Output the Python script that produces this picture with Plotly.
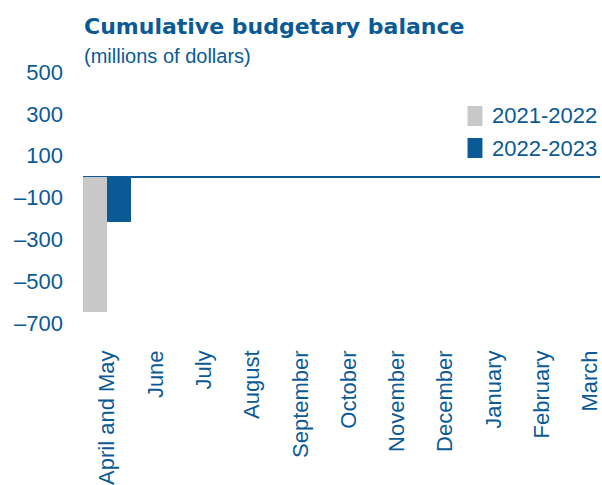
import plotly.graph_objects as go

# Cumulative budgetary balance by month, millions of dollars
months = ["April and May", "June", "July", "August", "September", "October",
          "November", "December", "January", "February", "March"]
series_names = ["2021-2022", "2022-2023"]
balance_2021_22 = [-645, None, None, None, None, None, None, None, None, None, None]
balance_2022_23 = [-215, None, None, None, None, None, None, None, None, None, None]
y_ticks = [500, 300, 100, -100, -300, -500, -700]
y_tick_text = [str(v).replace("-", "\u2013") for v in y_ticks]

BLUE = "#0b5a95"
GREY = "#c8c8c8"
FONT = "Liberation Sans, Arial, sans-serif"

W, H = 602, 485
L, R, T, B = 83, 0, 72, 162
plot_w = W - L - R
plot_h = H - T - B


def px_x(x):
    return (x - L) / plot_w


def px_y(y):
    return (H - B - y) / plot_h


fig = go.Figure()
fig.add_trace(go.Bar(x=months, y=balance_2021_22, name=series_names[0],
                     marker=dict(color=GREY, line=dict(width=0))))
fig.add_trace(go.Bar(x=months, y=balance_2022_23, name=series_names[1],
                     marker=dict(color=BLUE, line=dict(width=0))))

fig.update_layout(
    width=W, height=H,
    margin=dict(l=L, r=R, t=T, b=B, pad=0),
    paper_bgcolor="white", plot_bgcolor="white",
    barmode="group", bargap=0, bargroupgap=0,
    showlegend=False,
    font=dict(family=FONT, size=22, color=BLUE),
)

fig.update_xaxes(
    type="category", range=[-0.5, plot_w / 48.5 - 0.5],
    tickangle=-90, showgrid=False, showline=False, zeroline=False,
    ticks="", ticklabelstandoff=22,
    tickfont=dict(family=FONT, size=22, color=BLUE),
)
fig.update_yaxes(
    range=[-700, 500], tickvals=y_ticks, ticktext=y_tick_text,
    showgrid=False, showline=False,
    zeroline=True, zerolinecolor=BLUE, zerolinewidth=1.5,
    ticks="", ticklabelstandoff=19,
    tickfont=dict(family=FONT, size=22, color=BLUE),
)

# Title and unit line
fig.add_annotation(text="<b>Cumulative budgetary balance</b>", xref="paper", yref="paper",
                   x=px_x(82), y=px_y(27), xanchor="left", yanchor="middle", showarrow=False,
                   font=dict(family="DejaVu Sans, sans-serif", size=22, color=BLUE))
fig.add_annotation(text="(millions of dollars)", xref="paper", yref="paper",
                   x=px_x(82), y=px_y(56), xanchor="left", yanchor="middle", showarrow=False,
                   font=dict(family=FONT, size=20, color=BLUE))

# Legend: swatches and labels
legend_rows = [(series_names[0], GREY, 116), (series_names[1], BLUE, 148)]
for name, color, yc in legend_rows:
    fig.add_shape(type="rect", xref="paper", yref="paper",
                  x0=px_x(469), x1=px_x(484), y0=px_y(yc - 10), y1=px_y(yc + 10),
                  fillcolor=color, line=dict(width=0))
    fig.add_annotation(text=name, xref="paper", yref="paper",
                       x=px_x(492), y=px_y(yc), xanchor="left", yanchor="middle",
                       showarrow=False, font=dict(family=FONT, size=22, color=BLUE))

fig.write_html("out.html")
